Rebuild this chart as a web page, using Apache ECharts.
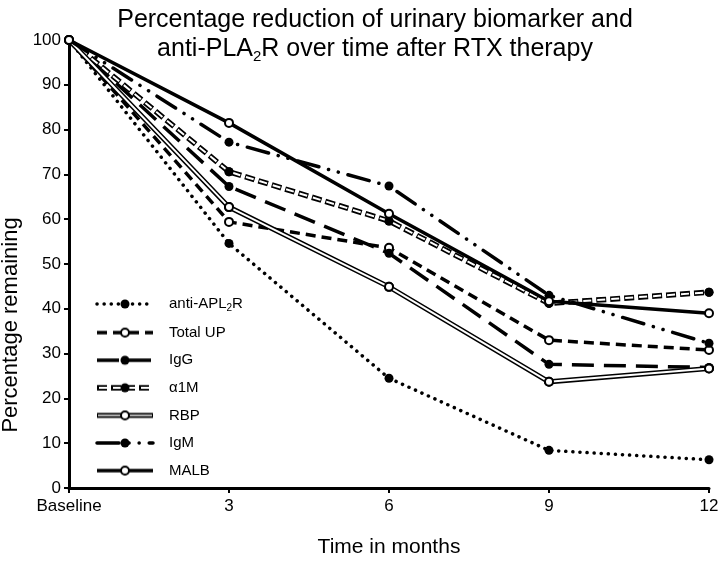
<!DOCTYPE html>
<html><head><meta charset="utf-8">
<script src="https://cdn.jsdelivr.net/npm/echarts@6/dist/echarts.min.js"></script>
<style>html,body{margin:0;padding:0;background:#fff}#c{width:720px;height:566px}</style>
</head><body><div id="c"></div>
<script>
// ---- data ----
const months = ['Baseline', '3', '6', '9', '12'];
const antiPLA2R = [100, 54.6, 24.5, 8.4, 6.3];
const totalUP   = [100, 59.4, 53.6, 33.0, 30.8];
const igG       = [100, 67.3, 52.4, 27.6, 26.9];
const a1M       = [100, 70.6, 59.6, 41.2, 43.7];
const rbp       = [100, 62.7, 44.9, 23.7, 26.7];
const igM       = [100, 77.2, 67.4, 43.0, 32.3];
const malb      = [100, 81.5, 61.2, 41.7, 39.0];
const legendNames = ['anti-APL2R', 'Total UP', 'IgG', 'α1M', 'RBP', 'IgM', 'MALB'];

// ---- styles ----
const FONT = 'Liberation Sans, Arial, sans-serif';
const styles = {
  'anti-APL2R': {width: 3.5, dash: [0.1, 7], cap: 'round', open: false, r: 4.5},
  'Total UP':   {width: 3.5, dash: [10, 6], cap: 'butt', open: true, r: 4},
  'IgG':        {width: 3.5, dash: [22, 10], cap: 'butt', open: false, r: 4.5},
  'α1M':        {width: 5.5, dash: [10, 4], cap: 'butt', open: false, r: 4.5, inner: {width: 2, dash: [8, 6], offset: -1, color: '#fff'}},
  'RBP':        {width: 5, dash: [], cap: 'butt', open: true, r: 4, inner: {width: 2, dash: [], offset: 0, color: '#fff'}},
  'IgM':        {width: 3.5, dash: [22, 10, 0.1, 10, 0.1, 10], cap: 'round', open: false, r: 4.5},
  'MALB':       {width: 3.5, dash: [], cap: 'butt', open: true, r: 4}
};
const seriesData = {
  'anti-APL2R': antiPLA2R, 'Total UP': totalUP, 'IgG': igG, 'α1M': a1M,
  'RBP': rbp, 'IgM': igM, 'MALB': malb
};

function makeIcon(st, legendInner) {
  const w = 60, h = 16;
  const c = document.createElement('canvas');
  c.width = w; c.height = h;
  const g = c.getContext('2d');
  g.lineCap = st.cap;
  g.strokeStyle = '#000';
  g.lineWidth = st.width;
  g.setLineDash(st.dash);
  g.beginPath(); g.moveTo(2, h / 2); g.lineTo(w - 2, h / 2); g.stroke();
  if (st.inner) {
    g.strokeStyle = legendInner || st.inner.color;
    g.lineWidth = st.inner.width;
    g.setLineDash(st.inner.dash);
    g.lineDashOffset = st.inner.offset;
    g.beginPath(); g.moveTo(3, h / 2); g.lineTo(w - 3, h / 2); g.stroke();
  }
  g.setLineDash([]);
  g.beginPath();
  g.arc(w / 2, h / 2, st.r, 0, Math.PI * 2);
  g.fillStyle = st.open ? '#fff' : '#000';
  g.fill();
  if (st.open) { g.strokeStyle = '#000'; g.lineWidth = 2; g.stroke(); }
  return 'image://' + c.toDataURL();
}

const series = [];
legendNames.forEach((name, i) => {
  const st = styles[name];
  const sym = {
    symbol: 'circle',
    symbolSize: st.r * 2,
    itemStyle: st.open ? {color: '#fff', borderColor: '#000', borderWidth: 2} : {color: '#000', borderColor: '#000', borderWidth: 0}
  };
  series.push(Object.assign({
    name: name,
    type: 'line',
    data: seriesData[name],
    z: 2 + i * 0.1,
    showSymbol: true,
    lineStyle: {color: '#000', width: st.width, type: st.dash.length ? st.dash : 'solid', cap: st.cap, join: 'miter'},
    emphasis: {disabled: true},
    animation: false
  }, sym));
  if (st.inner) {
    series.push(Object.assign({
      name: name + ' inner',
      type: 'line',
      data: seriesData[name],
      z: 2 + i * 0.1 + 0.05,
      showSymbol: true,
      lineStyle: {color: st.inner.color, width: st.inner.width, type: st.inner.dash.length ? st.inner.dash : 'solid', dashOffset: st.inner.offset, cap: 'butt'},
      emphasis: {disabled: true},
      animation: false
    }, sym));
  }
});

const legendData = legendNames.map(n => ({
  name: n,
  icon: makeIcon(styles[n], n === 'RBP' ? '#b0b0b0' : null)
}));

const chart = echarts.init(document.getElementById('c'), null, {renderer: 'canvas'});
chart.setOption({
  backgroundColor: '#fff',
  animation: false,
  textStyle: {fontFamily: FONT},
  title: {
    text: 'Percentage reduction of urinary biomarker and\nanti-PLA{sub|2}R over time after RTX therapy',
    left: 370, top: 1, textAlign: 'center',
    textStyle: {
      fontFamily: FONT, fontSize: 25, fontWeight: 'normal', color: '#000', lineHeight: 29,
      rich: {sub: {fontFamily: FONT, fontSize: 15, verticalAlign: 'bottom', padding: [12, 0, 0, 0], color: '#000', lineHeight: 29}}
    }
  },
  grid: {left: 69, right: 11, top: 40, bottom: 78, containLabel: false, outerBoundsMode: 'none'},
  legend: {
    data: legendData,
    orient: 'vertical',
    left: 90, top: 291,
    itemWidth: 60, itemHeight: 16, itemGap: 11.6,
    selectedMode: false,
    formatter: n => n === 'anti-APL2R' ? 'anti-APL{sub|2}R' : n,
    textStyle: {
      fontFamily: FONT, fontSize: 15, color: '#000', padding: [0, 0, 0, 9],
      rich: {sub: {fontFamily: FONT, fontSize: 10, padding: [8, 0, 0, 0]}}
    }
  },
  xAxis: {
    type: 'category',
    data: months,
    boundaryGap: false,
    name: 'Time in months',
    nameLocation: 'middle',
    nameGap: 49,
    nameTextStyle: {fontFamily: FONT, fontSize: 21, color: '#000'},
    axisLine: {lineStyle: {color: '#000', width: 3}},
    axisTick: {show: true, inside: false, length: 5, lineStyle: {color: '#000', width: 2}},
    axisLabel: {fontFamily: FONT, fontSize: 17, color: '#000', margin: 10},
    splitLine: {show: false}
  },
  yAxis: {
    type: 'value',
    min: 0, max: 100, interval: 10,
    name: 'Percentage remaining',
    nameLocation: 'middle',
    nameGap: 45,
    nameTextStyle: {fontFamily: FONT, fontSize: 22, color: '#000', padding: [0, 122, 0, 0]},
    axisLine: {show: true, lineStyle: {color: '#000', width: 3}},
    axisTick: {show: true, inside: false, length: 5, lineStyle: {color: '#000', width: 2}},
    axisLabel: {fontFamily: FONT, fontSize: 17, color: '#000', margin: 8},
    splitLine: {show: false}
  },
  series: series
});
</script></body></html>
